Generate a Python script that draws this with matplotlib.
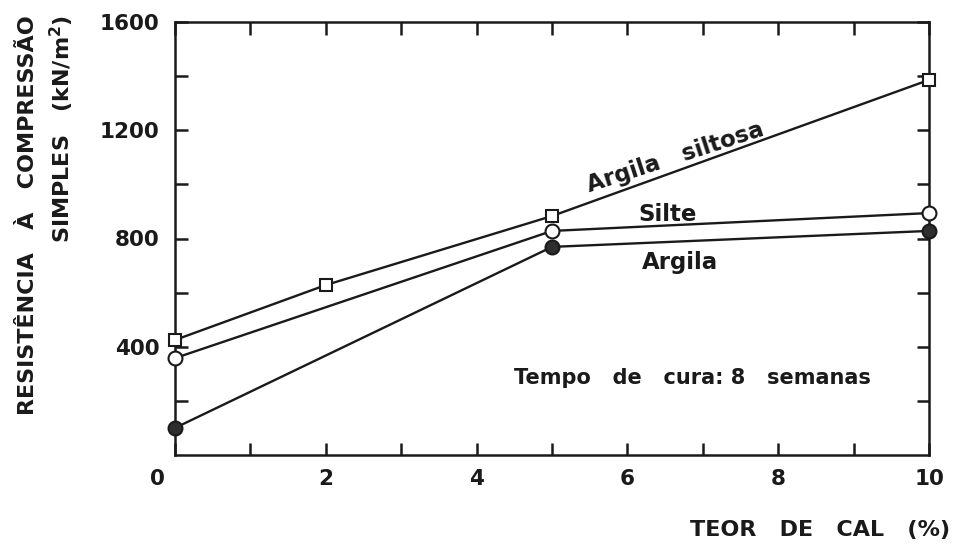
import matplotlib.pyplot as plt
import matplotlib.transforms as mtransforms
import numpy as np

# teor de cal (%) e resistência (kN/m2)
x_siltosa = [0, 2, 5, 10]
y_siltosa = [425, 628, 883, 1386]
x_silte = [0, 5, 10]
y_silte = [358, 828, 894]
x_argila = [0, 5, 10]
y_argila = [100, 769, 828]

plt.rcParams['font.family'] = 'DejaVu Sans'
plt.rcParams['font.weight'] = 'bold'
ink = '#1a1a1a'

fig = plt.figure(figsize=(9.55, 5.48), dpi=100)
ax = fig.add_axes([175/955, 1 - 455/548, (929-175)/955, (455-22)/548])

lw = 1.7
ax.plot(x_siltosa, y_siltosa, color=ink, lw=lw, marker='s', ms=8,
        mfc='white', mec=ink, mew=1.5, clip_on=False, zorder=3)
ax.plot(x_silte, y_silte, color=ink, lw=lw, marker='o', ms=10,
        mfc='white', mec=ink, mew=1.5, clip_on=False, zorder=3)
ax.plot(x_argila, y_argila, color=ink, lw=lw, marker='o', ms=10,
        mfc='#2e2e2e', mec=ink, mew=1.5, clip_on=False, zorder=3)

ax.set_xlim(0, 10)
ax.set_ylim(0, 1600)
ax.set_xticks([0, 2, 4, 6, 8, 10])
ax.set_xticklabels(['0', '2', '4', '6', '8', '10'])
ax.set_xticks(np.arange(1, 10, 2), minor=True)
ax.set_yticks([400, 800, 1200, 1600])
ax.set_yticks([200, 600, 1000, 1400], minor=True)

for s in ax.spines.values():
    s.set_linewidth(1.8)
    s.set_color(ink)
ax.tick_params(which='both', direction='in', top=True, right=True,
               length=9, width=1.8, color=ink, labelsize=15.5,
               labelcolor=ink)
ax.tick_params(axis='x', pad=10)
ax.tick_params(axis='y', pad=11)

# o "0" do eixo x fica deslocado para o canto
lbl0 = ax.get_xticklabels()[0]
lbl0.set_transform(lbl0.get_transform() +
                   mtransforms.ScaledTranslation(-18/100, 0, fig.dpi_scale_trans))

txt = dict(color=ink, fontsize=16.5)
ax.text(6.63, 1100, 'Argila   siltosa', rotation=18, ha='center', va='center', **txt)
ax.text(6.53, 887, 'Silte', ha='center', va='center', **txt)
ax.text(6.7, 713, 'Argila', ha='center', va='center', **txt)
ax.text(6.86, 285, 'Tempo   de   cura: 8   semanas', ha='center', va='center',
        color=ink, fontsize=15)

fig.text(28/955, 1 - 15/548, 'RESISTÊNCIA   À   COMPRESSÃO', rotation=90,
         ha='center', va='top', fontsize=16, color=ink)
fig.text(62/955, 1 - 15/548, 'SIMPLES   (kN/m$\\mathbf{^2}$)', rotation=90,
         ha='center', va='top', fontsize=16, color=ink)
fig.text(950/955, 1 - 530/548, 'TEOR   DE   CAL   (%)', ha='right', va='center',
         fontsize=16, color=ink)

fig.savefig('out.png', dpi=100)
